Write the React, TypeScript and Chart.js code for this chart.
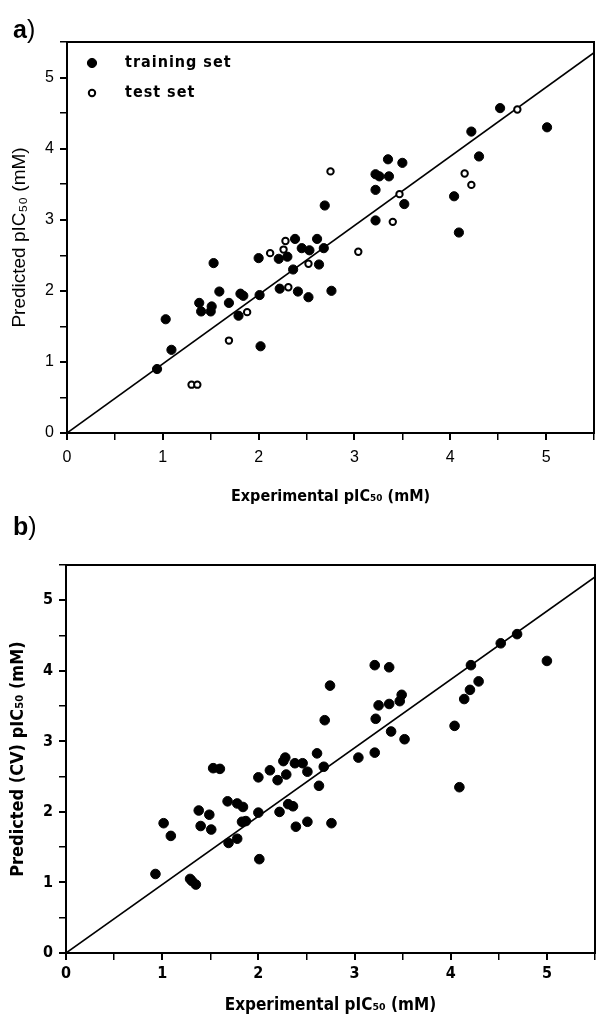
import React, { useEffect, useRef } from 'react';
import { Chart, registerables } from 'chart.js';
Chart.register(...registerables);

// ---------- data: panel a ----------
const trainA_x = [0.94, 1.03, 1.09, 1.38, 1.40, 1.50, 1.51, 1.53, 1.59, 1.69, 1.79, 1.81, 1.84, 2.00, 2.01, 2.02, 2.21, 2.22, 2.30, 2.36, 2.38, 2.41, 2.45, 2.53, 2.52, 2.61, 2.63, 2.68, 2.69, 2.76, 3.22, 3.26, 3.22, 3.22, 3.35, 3.36, 3.50, 3.52, 4.04, 4.09, 4.22, 4.30, 4.52, 5.01];
const trainA_y = [0.90, 1.60, 1.17, 1.83, 1.71, 1.71, 1.78, 2.39, 1.99, 1.83, 1.65, 1.96, 1.93, 2.46, 1.94, 1.22, 2.45, 2.03, 2.48, 2.30, 2.73, 1.99, 2.60, 2.57, 1.91, 2.73, 2.37, 2.60, 3.20, 2.00, 3.64, 3.61, 3.42, 2.99, 3.85, 3.61, 3.80, 3.22, 3.33, 2.82, 4.24, 3.89, 4.57, 4.30];
const testA_x = [1.30, 1.36, 1.69, 1.88, 2.12, 2.26, 2.28, 2.31, 2.52, 2.75, 3.04, 3.40, 3.47, 4.15, 4.22, 4.70];
const testA_y = [0.68, 0.68, 1.30, 1.70, 2.53, 2.58, 2.70, 2.05, 2.38, 3.68, 2.55, 2.97, 3.36, 3.65, 3.49, 4.55];

// ---------- data: panel b ----------
const cvB_x = [0.93, 1.015, 1.09, 1.29, 1.31, 1.35, 1.38, 1.40, 1.49, 1.51, 1.53, 1.60, 1.68, 1.69, 1.78, 1.78, 1.84, 1.83, 1.87, 2.00, 2.00, 2.01, 2.12, 2.20, 2.22, 2.26, 2.28, 2.29, 2.31, 2.36, 2.38, 2.39, 2.46, 2.51, 2.51, 2.61, 2.63, 2.68, 2.69, 2.745, 2.76, 3.04, 3.21, 3.21, 3.22, 3.25, 3.36, 3.36, 3.38, 3.47, 3.49, 3.52, 4.04, 4.09, 4.14, 4.20, 4.21, 4.29, 4.52, 4.69, 5.00];
const cvB_y = [1.12, 1.84, 1.66, 1.05, 1.02, 0.97, 2.02, 1.80, 1.96, 1.75, 2.62, 2.61, 2.15, 1.56, 2.12, 1.62, 2.07, 1.86, 1.87, 2.49, 1.99, 1.33, 2.59, 2.45, 2.00, 2.72, 2.77, 2.53, 2.11, 2.08, 2.69, 1.79, 2.69, 2.57, 1.86, 2.83, 2.37, 2.64, 3.30, 3.79, 1.84, 2.77, 4.08, 2.84, 3.32, 3.51, 4.05, 3.53, 3.14, 3.57, 3.66, 3.03, 3.22, 2.35, 3.60, 3.73, 4.08, 3.85, 4.39, 4.52, 4.14];

// ---------- fitted lines ----------
const lineA_x = [0, 5.5];
const lineA_y = [0, 5.35];
const lineB_x = [0, 5.5];
const lineB_y = [0, 5.33];

// ---------- text ----------
const legendLabels = ['training set', 'test set'];
const xTitle = 'Experimental pIC\u2085\u2080 (mM)';
const yTitleA = 'Predicted pIC\u2085\u2080 (mM)';
const yTitleB = 'Predicted (CV) pIC\u2085\u2080 (mM)';
const axisMin = 0;
const axisMax = 5.5;
const axisStep = 0.5;

const pts = (xs: number[], ys: number[]) => xs.map((x, i) => ({ x, y: ys[i] }));

const NARROW = "'Liberation Sans Narrow', 'DejaVu Sans Condensed', 'Liberation Sans', Arial, sans-serif";
const SANS = "'Liberation Sans', Arial, sans-serif";

const framePlugin = {
  id: 'frame',
  afterDraw(chart: any) {
    const { ctx, chartArea } = chart;
    const { left, top, right, bottom } = chartArea;
    ctx.save();
    ctx.strokeStyle = '#000';
    ctx.lineWidth = 2;
    ctx.strokeRect(left, top, right - left, bottom - top);
    ctx.restore();
  },
};

const insideLegend = {
  id: 'insideLegend',
  afterDraw(chart: any) {
    const { ctx, chartArea } = chart;
    const ds = chart.data.datasets;
    ctx.save();
    for (let i = 0; i < legendLabels.length; i++) {
      const d = ds[i];
      const cx = chartArea.left + 25;
      const cy = chartArea.top + 21 + i * 30;
      ctx.beginPath();
      ctx.arc(cx, cy, d.pointRadius, 0, Math.PI * 2);
      ctx.fillStyle = d.pointBackgroundColor;
      ctx.fill();
      ctx.lineWidth = d.pointBorderWidth;
      ctx.strokeStyle = '#000';
      ctx.stroke();
      ctx.fillStyle = '#000';
      ctx.font = `bold 16px ${NARROW}`;
      try { (ctx as any).letterSpacing = '1px'; } catch (e) {}
      ctx.textBaseline = 'middle';
      ctx.textAlign = 'left';
      ctx.fillText(legendLabels[i], chartArea.left + 58, cy);
    }
    ctx.restore();
  },
};

function makeScale(opts: {
  axis: 'x' | 'y';
  size: number;
  title: string;
  tickFont: any;
  titleFont: any;
  titlePadding: any;
  tickPadding: number;
}) {
  return {
    type: 'linear',
    min: axisMin,
    max: axisMax,
    afterFit: (s: any) => {
      if (opts.axis === 'x') s.height = opts.size;
      else s.width = opts.size;
    },
    ticks: {
      stepSize: axisStep,
      autoSkip: false,
      maxRotation: 0,
      color: '#000',
      padding: opts.tickPadding,
      font: opts.tickFont,
      callback: (v: any) => (Math.abs(v - Math.round(v)) < 1e-6 ? String(Math.round(v)) : ''),
    },
    grid: {
      drawOnChartArea: false,
      drawTicks: true,
      tickLength: 7,
      color: '#000',
      lineWidth: (c: any) => (c.tick && Math.abs(c.tick.value - Math.round(c.tick.value)) < 1e-6 ? 2 : 1.5),
    },
    border: { color: '#000', width: 2 },
    title: {
      display: true,
      text: opts.title,
      color: '#000',
      font: opts.titleFont,
      padding: opts.titlePadding,
    },
  };
}

function ChartA() {
  const ref = useRef<HTMLCanvasElement>(null);
  useEffect(() => {
    const chart = new Chart(ref.current as HTMLCanvasElement, {
      type: 'scatter',
      data: {
        datasets: [
          {
            label: legendLabels[0],
            data: pts(trainA_x, trainA_y),
            pointRadius: 4.6,
            pointBackgroundColor: '#000',
            pointBorderColor: '#000',
            pointBorderWidth: 1,
          },
          {
            label: legendLabels[1],
            data: pts(testA_x, testA_y),
            pointRadius: 3.2,
            pointBackgroundColor: '#fff',
            pointBorderColor: '#000',
            pointBorderWidth: 2,
          },
          {
            label: 'fit',
            data: pts(lineA_x, lineA_y),
            showLine: true,
            pointRadius: 0,
            borderColor: '#000',
            borderWidth: 1.6,
          },
        ],
      } as any,
      options: {
        responsive: false,
        animation: false,
        layout: { padding: { top: 42, right: 1, left: 0, bottom: 0 } },
        plugins: { legend: { display: false }, tooltip: { enabled: false } },
        scales: {
          x: makeScale({
            axis: 'x',
            size: 87,
            title: xTitle,
            tickFont: { family: SANS, size: 16 },
            titleFont: { family: NARROW, size: 16, weight: 'bold' },
            titlePadding: { top: 0, bottom: 14 },
            tickPadding: 8,
          }),
          y: makeScale({
            axis: 'y',
            size: 67,
            title: yTitleA,
            tickFont: { family: SANS, size: 16 },
            titleFont: { family: SANS, size: 19 },
            titlePadding: { top: 8, bottom: 0 },
            tickPadding: 6,
          }),
        } as any,
      },
      plugins: [framePlugin, insideLegend],
    });
    return () => chart.destroy();
  }, []);
  return <canvas ref={ref} width={602} height={520} style={{ display: 'block' }} />;
}

function ChartB() {
  const ref = useRef<HTMLCanvasElement>(null);
  useEffect(() => {
    const chart = new Chart(ref.current as HTMLCanvasElement, {
      type: 'scatter',
      data: {
        datasets: [
          {
            label: 'CV',
            data: pts(cvB_x, cvB_y),
            pointRadius: 4.8,
            pointBackgroundColor: '#000',
            pointBorderColor: '#000',
            pointBorderWidth: 1,
          },
          {
            label: 'fit',
            data: pts(lineB_x, lineB_y),
            showLine: true,
            pointRadius: 0,
            borderColor: '#000',
            borderWidth: 1.6,
          },
        ],
      } as any,
      options: {
        responsive: false,
        animation: false,
        layout: { padding: { top: 45, right: 7, left: 0, bottom: 0 } },
        plugins: { legend: { display: false }, tooltip: { enabled: false } },
        scales: {
          x: makeScale({
            axis: 'x',
            size: 69,
            title: xTitle,
            tickFont: { family: NARROW, size: 16, weight: 'bold' },
            titleFont: { family: NARROW, size: 17, weight: 'bold' },
            titlePadding: { top: 0, bottom: 6 },
            tickPadding: 4,
          }),
          y: makeScale({
            axis: 'y',
            size: 66,
            title: yTitleB,
            tickFont: { family: NARROW, size: 16, weight: 'bold' },
            titleFont: { family: NARROW, size: 18, weight: 'bold' },
            titlePadding: { top: 8, bottom: 0 },
            tickPadding: 6,
          }),
        } as any,
      },
      plugins: [framePlugin],
    });
    return () => chart.destroy();
  }, []);
  return <canvas ref={ref} width={602} height={502} style={{ display: 'block' }} />;
}

const panelLabel: React.CSSProperties = {
  position: 'absolute',
  left: 13,
  fontFamily: SANS,
  fontSize: 25,
  lineHeight: '28px',
  color: '#000',
};

export default function App() {
  return (
    <div style={{ position: 'absolute', left: 0, top: 0, width: 602, height: 1022, background: '#fff', overflow: 'hidden' }}>
      <div style={{ position: 'absolute', left: 0, top: 0 }}>
        <ChartA />
      </div>
      <div style={{ position: 'absolute', left: 0, top: 520 }}>
        <ChartB />
      </div>
      <div style={{ ...panelLabel, top: 15 }}>
        <b>a</b>
        <span style={{ fontWeight: 300 }}>)</span>
      </div>
      <div style={{ ...panelLabel, top: 512 }}>
        <b>b</b>
        <span style={{ fontWeight: 300 }}>)</span>
      </div>
    </div>
  );
}
